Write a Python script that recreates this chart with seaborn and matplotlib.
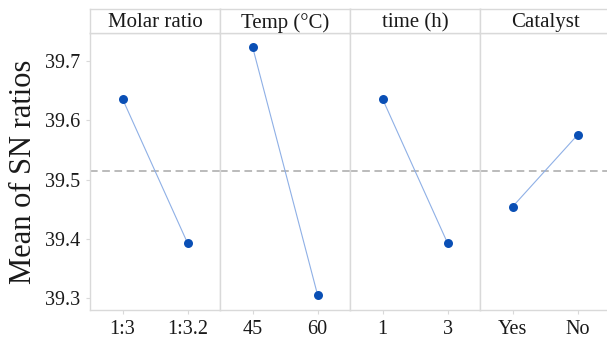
import matplotlib
matplotlib.use("Agg")
import matplotlib.pyplot as plt
import seaborn as sns
import pandas as pd
import numpy as np

factors = ["Molar ratio", "Temp (°C)", "time (h)", "Catalyst"]
levels = [["1:3", "1:3.2"], ["45", "60"], ["1", "3"], ["Yes", "No"]]
sn_means = [[39.636, 39.393], [39.724, 39.306], [39.636, 39.393], [39.454, 39.575]]
overall_mean = 39.514
yticks = [39.3, 39.4, 39.5, 39.6, 39.7]

sns.set_theme(style="white")
plt.rcParams['font.family'] = ['Liberation Serif', 'DejaVu Serif']

W, H = 607, 338
fig = plt.figure(figsize=(W / 100, H / 100), dpi=100)

left_px, panel_w = 90, 130
plot_top, plot_bot = 33, 310
strip_top = 9
grid_col = "#d9d9d9"
line_col = "#8fb0e6"
pt_col = "#0a4fb5"
txt_col = "#1a1a1a"

axes = []
for i, (fac, lev, vals) in enumerate(zip(factors, levels, sn_means)):
    x0 = (left_px + i * panel_w) / W
    ax = fig.add_axes([x0, (H - plot_bot) / H, panel_w / W, (plot_bot - plot_top) / H])
    df = pd.DataFrame({"pos": np.arange(len(lev)), "val": vals})
    sns.lineplot(data=df, x="pos", y="val", ax=ax, color=line_col, lw=0.8)
    sns.scatterplot(data=df, x="pos", y="val", ax=ax, color=pt_col, s=42,
                    edgecolor=pt_col, linewidth=0, zorder=3)
    ax.axhline(overall_mean, color="#a8a8a8", ls=(0, (5, 3)), lw=1.1, zorder=1)
    ax.set_xlim(-0.5, len(lev) - 0.5)
    ax.set_ylim(39.28, 39.747)
    ax.set_xticks(np.arange(len(lev)))
    ax.set_xticklabels(lev, fontsize=14.5)
    ax.set_xlabel("")
    ax.set_ylabel("")
    for sp in ax.spines.values():
        sp.set_color(grid_col)
        sp.set_linewidth(1.0)
    ax.tick_params(axis="both", colors=grid_col, labelcolor=txt_col,
                   length=3, width=0.8, labelsize=14.5, pad=4, bottom=True, left=(i == 0))
    ax.set_yticks(yticks)
    if i == 0:
        ax.set_yticklabels([f"{v:.1f}" for v in yticks])
        ax.set_ylabel("Mean of SN ratios", fontsize=22, color=txt_col, labelpad=5)
    else:
        ax.tick_params(axis="y", labelleft=False, left=False)
    # strip header
    sax = fig.add_axes([x0, (H - plot_top) / H, panel_w / W, (plot_top - strip_top) / H])
    sax.set_xticks([])
    sax.set_yticks([])
    sax.set_facecolor("white")
    for sp in sax.spines.values():
        sp.set_color(grid_col)
        sp.set_linewidth(1.0)
    sax.text(0.5, 0.42, fac, ha="center", va="center", fontsize=15,
             color=txt_col, transform=sax.transAxes)
    axes.append(ax)

fig.savefig("out.png", dpi=100, facecolor="white")
